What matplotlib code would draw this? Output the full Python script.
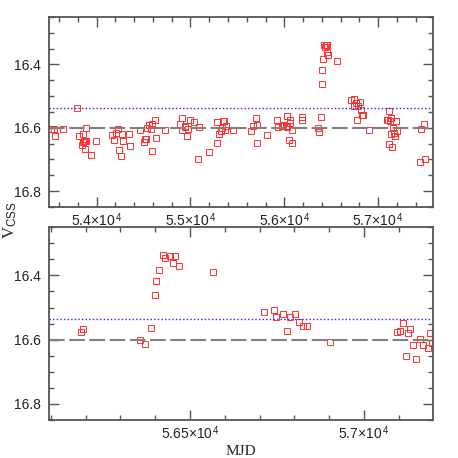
import numpy as np
import matplotlib
matplotlib.use("Agg")
import matplotlib.pyplot as plt
from matplotlib.ticker import MultipleLocator, FuncFormatter

plt.rcParams["font.family"] = ["Liberation Sans", "DejaVu Sans"]
plt.rcParams["mathtext.fontset"] = "custom"
plt.rcParams["mathtext.rm"] = "Liberation Sans"
plt.rcParams["mathtext.it"] = "Liberation Serif"

# CSS light curve (MJD, V mag)
mjd = [
    53510, 53549, 53560, 53638, 53794, 53815, 53840, 53851, 53858, 53865,
    53872, 53879, 53886, 53888, 53940, 53993, 54167, 54185, 54202, 54227,
    54241, 54256, 54266, 54277, 54348, 54355, 54462, 54501, 54515, 54525,
    54533, 54554, 54561, 54575, 54586, 54593, 54625, 54632, 54731, 54888,
    54905, 54909, 54937, 54944, 54962, 54976, 54994, 55037, 55079, 55086,
    55200, 55278, 55285, 55299, 55321, 55331, 55342, 55356, 55367, 55377,
    55456, 55647, 55669, 55697, 55711, 55709, 55818, 55924, 55938, 55974,
    55988, 56013, 56024, 56034, 56045, 56059, 56063, 56080, 56087,
    56186, 56193, 56356, 56372, 56388, 56399, 56402, 56412, 56423, 56429,
    56443, 56450, 56457, 56469, 56567, 56714, 56742, 56748, 56768, 56778,
    56787, 56803, 56813, 56826, 56837, 56902, 57096, 57103, 57113, 57121,
    57126, 57133, 57140, 57150, 57161, 57169, 57185, 57191, 57196,
    57443, 57458, 57486, 57500,
]
vmag = [
    16.605, 16.605, 16.626, 16.605, 16.538, 16.625, 16.655, 16.644, 16.619, 16.643,
    16.668, 16.641, 16.599, 16.641, 16.686, 16.643, 16.624, 16.638, 16.615, 16.603,
    16.671, 16.688, 16.621, 16.641, 16.619, 16.658, 16.608, 16.644, 16.634, 16.634,
    16.599, 16.592, 16.591, 16.603, 16.672, 16.589, 16.575, 16.633, 16.607, 16.588,
    16.568, 16.608, 16.594, 16.598, 16.626, 16.605, 16.575, 16.581, 16.698, 16.598,
    16.675, 16.648, 16.582, 16.619, 16.611, 16.601, 16.580, 16.580, 16.607, 16.594,
    16.606, 16.609, 16.593, 16.568, 16.590, 16.649, 16.624, 16.576, 16.598, 16.594,
    16.592, 16.594, 16.596, 16.562, 16.637, 16.584, 16.575, 16.608, 16.648,
    16.576, 16.566, 16.601, 16.614, 16.565, 16.462, 16.417, 16.382, 16.337, 16.345,
    16.340, 16.360, 16.340, 16.371, 16.388, 16.513, 16.509, 16.531, 16.521, 16.574,
    16.531, 16.520, 16.545, 16.558, 16.558, 16.607, 16.576, 16.574, 16.547, 16.651,
    16.580, 16.568, 16.618, 16.659, 16.599, 16.616, 16.626, 16.580, 16.609,
    16.707, 16.605, 16.588, 16.700,
]
mean_level = 16.6
quiet_level = 16.537

fig = plt.figure(figsize=(4.58, 4.58), dpi=100)
ax1 = fig.add_axes([0.108, 0.548, 0.837, 0.415])
ax2 = fig.add_axes([0.108, 0.083, 0.837, 0.421])

panels = [
    (ax1, (53497, 57583), 1000, 200),
    (ax2, (56096, 57198), 500, 100),
]


def mjd_fmt(v, pos):
    return f"{v / 1e4:g}" + r"$\times$10$^{\,4}$"


for ax, xlim, major, minor in panels:
    ax.plot(mjd, vmag, ls="none", marker="s", ms=3.8, mfc="none",
            mec="#ff3030", mew=0.7)
    ax.axhline(mean_level, color="#808080", lw=1.5, dashes=(7.5, 2.2))
    ax.axhline(quiet_level, color="#2020ff", lw=1.0, ls=(0, (1, 1.6)))
    ax.set_xlim(*xlim)
    ax.set_ylim(16.85, 16.25)
    ax.xaxis.set_major_locator(MultipleLocator(major))
    ax.xaxis.set_minor_locator(MultipleLocator(minor))
    ax.yaxis.set_major_locator(MultipleLocator(0.2))
    ax.yaxis.set_minor_locator(MultipleLocator(0.05))
    ax.xaxis.set_major_formatter(FuncFormatter(mjd_fmt))
    ax.yaxis.set_major_formatter(FuncFormatter(lambda v, p: f"{v:.1f}"))
    ax.tick_params(which="both", direction="in", top=True, right=True,
                   color="#555555", labelsize=10, labelcolor="#222222", width=1.0)
    ax.tick_params(which="major", length=7)
    ax.tick_params(which="minor", length=3.5)
    ax.tick_params(axis="x", which="major", pad=3)
    ax.tick_params(axis="y", which="major", pad=6)
    for sp in ax.spines.values():
        sp.set_color("#555555")
        sp.set_linewidth(1.3)

ax2.set_xlabel("MJD", family="Liberation Serif", fontsize=11, color="#222222", labelpad=2)
fig.text(0.022, 0.52, r"$\mathit{V}_{\mathrm{CSS}}$", rotation=90, fontsize=12,
         ha="center", va="center", color="#222222")

fig.savefig("out.png", dpi=100)
